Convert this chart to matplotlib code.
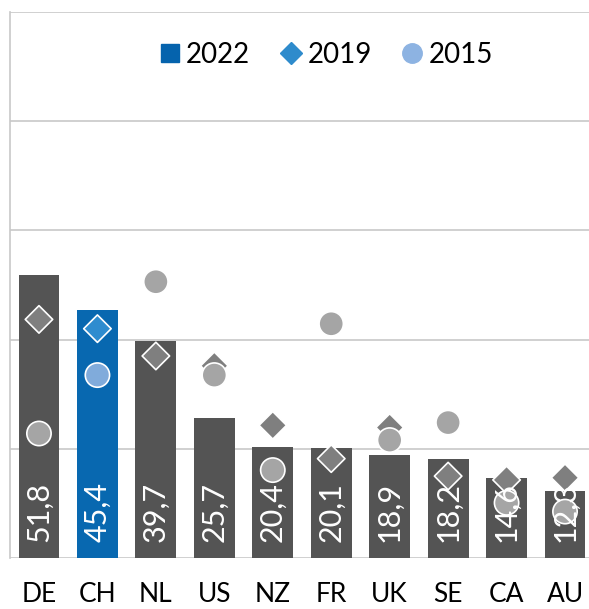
import numpy as np
import matplotlib.pyplot as plt
from matplotlib.lines import Line2D

plt.rcParams['font.family'] = ['Lato', 'DejaVu Sans']

countries = ['DE', 'CH', 'NL', 'US', 'NZ', 'FR', 'UK', 'SE', 'CA', 'AU']
values_2022 = [51.8, 45.4, 39.7, 25.7, 20.4, 20.1, 18.9, 18.2, 14.6, 12.3]
values_2019 = [43.7, 42.0, 37.0, 35.2, 24.3, 18.2, 23.9, 15.0, 14.3, 14.7]
values_2015 = [22.8, 33.5, 50.6, 33.5, 16.1, 42.9, 21.6, 24.8, 10.1, 8.5]
highlight = 'CH'

dark = '#545454'
blue = '#0868b0'
x = np.arange(len(countries))
is_hl = [c == highlight for c in countries]
bar_colors = [blue if h else dark for h in is_hl]
dia_colors = ['#2e8ccf' if h else '#7f7f7f' for h in is_hl]
circ_colors = ['#80abdb' if h else '#a5a5a5' for h in is_hl]

fig = plt.figure(figsize=(5.89, 6.09), dpi=100)
ax = fig.add_axes([9.75 / 589, 51 / 609, 584.5 / 589, 546 / 609])

ax.bar(x, values_2022, width=0.7, color=bar_colors, zorder=2)
ax.scatter(x, values_2019, marker='D', s=14 ** 2, c=dia_colors,
           edgecolors='white', linewidths=1.2, zorder=3)
ax.scatter(x, values_2015, marker='o', s=17.5 ** 2, c=circ_colors,
           edgecolors='white', linewidths=1.2, zorder=4)

for xi, v in zip(x, values_2022):
    ax.text(xi, 3.0, f'{v:.1f}'.replace('.', ','), rotation=90,
            ha='center', va='bottom', color='white', fontsize=22, zorder=5)

ax.set_xlim(-0.5, len(countries) - 0.5)
ax.set_ylim(0, 100)
ax.set_yticks([0, 20, 40, 60, 80, 100])
ax.set_yticklabels([])
ax.yaxis.grid(True, color='#c8c8c8', linewidth=1.2, zorder=0)
ax.tick_params(axis='y', length=0)
ax.set_xticks(x)
ax.set_xticklabels(countries, fontsize=19)
ax.tick_params(axis='x', length=0, pad=17)
for s in ['top', 'right', 'bottom']:
    ax.spines[s].set_visible(False)
ax.spines['left'].set_color('#c8c8c8')
ax.spines['left'].set_linewidth(1.2)

handles = [
    Line2D([], [], marker='s', linestyle='none', color='#0563ad', markersize=13),
    Line2D([], [], marker='D', linestyle='none', color='#2e8bcc', markersize=11),
    Line2D([], [], marker='o', linestyle='none', color='#8db3e2', markersize=14),
]
fig.legend(handles, ['2022', '2019', '2015'], loc='center',
           bbox_to_anchor=(325 / 589, 1 - 55 / 609), ncol=3, frameon=False,
           fontsize=20, handletextpad=0.15, columnspacing=1.0, handlelength=0.9)

fig.savefig('out.png', dpi=100)
